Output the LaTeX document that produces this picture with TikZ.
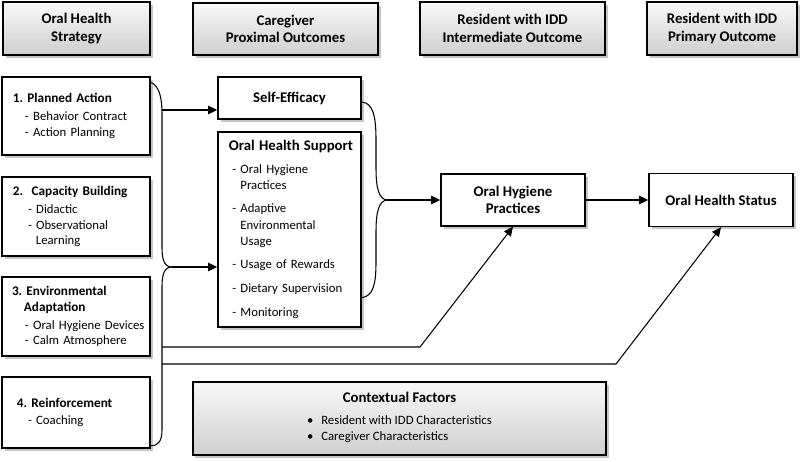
\documentclass[tikz,border=0pt]{standalone}
\usepackage{fontspec}
\setmainfont{Carlito}
\usepackage{tikz}
\usetikzlibrary{shadows}
\usetikzlibrary{arrows.meta}
\usetikzlibrary{calc}

\newcommand{\hdsz}{\fontsize{10.5}{12.6}\selectfont}
\newcommand{\txsz}{\fontsize{9.05}{10.8}\selectfont}
\frenchspacing

\begin{document}
\begin{tikzpicture}[x=0.025cm,y=-0.025cm,
  shade box/.style={rectangle,draw=black,line width=1pt,top color=gray!5,bottom color=gray!38,
    drop shadow={shadow xshift=1.8pt,shadow yshift=-1.8pt,fill=black!45}},
  header/.style={shade box,align=center,font=\hdsz\bfseries},
  plain box/.style={rectangle,draw=black,line width=1pt,fill=white,
    drop shadow={shadow xshift=1.8pt,shadow yshift=-1.8pt,fill=black!45}},
  strat/.style={plain box,inner xsep=0.075cm,text width=3.55cm,minimum width=3.7cm,align=left,font=\txsz},
  outcome/.style={plain box,align=center,font=\hdsz\bfseries},
  link/.style={line width=0.75pt},
  arr/.style={link,-{Triangle[length=6.5pt,width=6pt]}}]
\useasboundingbox (0,0) rectangle (800,461);

\node at (76.5,28.5) [header,minimum width=3.675cm,minimum height=1.325cm] (hstrat) {Oral Health\\Strategy};
\node at (285.5,29) [header,minimum width=4.625cm,minimum height=1.3cm] (hprox) {Caregiver\\Proximal Outcomes};
\node at (512.5,28.5) [header,minimum width=4.625cm,minimum height=1.325cm] (hinter) {Resident with IDD\\Intermediate Outcome};
\node at (722,28.5) [header,minimum width=3.75cm,minimum height=1.325cm] (hprim) {Resident with IDD\\Primary Outcome};

\node at (76,116) [strat,minimum height=1.95cm] (plan) {\hspace*{5.7pt}\textbf{\fontsize{9.4}{10.8}\selectfont 1. Planned Action}\\[2pt]
  \hspace*{14.2pt}- Behavior Contract\\\hspace*{14.2pt}- Action Planning};
\node at (76,216.5) [strat,minimum height=1.975cm] (capac) {\hspace*{5.7pt}\textbf{\fontsize{9.4}{10.8}\selectfont 2.\ \ Capacity Building}\\[2pt]
  \hspace*{16.4pt}- Didactic\\\hspace*{16.4pt}- Observational\\\hspace*{22pt}Learning};
\node at (76,316.5) [strat,minimum height=1.975cm] (envir) {\hspace*{5pt}\textbf{\fontsize{9.4}{10.8}\selectfont 3. Environmental}\\
  \hspace*{13.5pt}\textbf{\fontsize{9.4}{10.8}\selectfont Adaptation}\\[2pt]\hspace*{14.2pt}- Oral Hygiene Devices\\\hspace*{14.2pt}- Calm Atmosphere};
\node at (76,412.5) [strat,minimum height=1.775cm] (reinf) {\hspace*{8.5pt}\textbf{\fontsize{9.4}{10.8}\selectfont 4. Reinforcement}\\[1pt]
  \hspace*{16.4pt}- Coaching};

\node at (289.5,98) [outcome,minimum width=3.575cm,minimum height=1.05cm] (selfeff) {Self-Efficacy};
\node at (289.5,229.5) [plain box,minimum width=3.575cm,minimum height=4.875cm,inner xsep=0.2cm,
  text width=3.175cm,align=left,font=\fontsize{9.05}{11.4}\selectfont] (support)
  {\hspace*{\fill}{\hdsz\bfseries Oral Health Support}\hspace*{\fill}\\[4.5pt]
  \hspace*{4.5pt}- Oral Hygiene\\\hspace*{4.5pt}\phantom{- }Practices\\[5.5pt]
  \hspace*{4.5pt}- Adaptive\\\hspace*{4.5pt}\phantom{- }Environmental\\\hspace*{4.5pt}\phantom{- }Usage\\[5.5pt]
  \hspace*{4.5pt}- Usage of Rewards\\[5.5pt]
  \hspace*{4.5pt}- Dietary Supervision\\[5.5pt]
  \hspace*{4.5pt}- Monitoring};

\node at (513,200) [outcome,minimum width=3.6cm,minimum height=1.3cm] (hygiene) {Oral Hygiene\\Practices};
\node at (721,200) [outcome,minimum width=3.6cm,minimum height=1.325cm] (status) {Oral Health Status};

\node at (399.5,418.5) [shade box,minimum width=10.325cm,minimum height=1.825cm,align=center] (context)
  {{\hdsz\bfseries Contextual Factors}\\[7pt]
  {\txsz\begin{tabular}{@{}l@{}}\textbullet\hspace{5.5pt}Resident with IDD Characteristics\\[0.8pt]
  \textbullet\hspace{5.5pt}Caregiver Characteristics\end{tabular}}};

\coordinate (lcusp) at (172,267);
\coordinate (sefork) at (162,110);
\coordinate (fork1) at (162,347);
\coordinate (bend1) at (420,347);
\coordinate (fork2) at (162,364);
\coordinate (bend2) at (616,364);
\coordinate (rcusp) at (387,200);

\draw [link] ($(plan.north east)+(0,6)$) .. controls (159,86) and (162,96) .. (162,115) -- (162,248)
  .. controls (162,261) and (165,267) .. (lcusp);
\draw [link] (lcusp) .. controls (165,267) and (162,273) .. (162,286) -- (162,430)
  .. controls (162,441) and (158,446) .. ($(reinf.south east)+(0,-3)$);
\draw [arr] (sefork) -- (sefork -| selfeff.west);
\draw [arr] (lcusp) -- (lcusp -| support.west);
\draw [arr] (fork1) -- (bend1) -- (hygiene.south);
\draw [arr] (fork2) -- (bend2) -- (status.south);

\draw [link] ($(selfeff.east)+(0,4)$) .. controls (373,103) and (376,116) .. (376,140) -- (376,168)
  .. controls (376,189) and (379,199) .. (rcusp);
\draw [link] (rcusp) .. controls (379,201) and (376,211) .. (376,232) -- (376,262)
  .. controls (376,285) and (373,296) .. ($(support.south east)+(0,-30)$);
\draw [arr] (rcusp) -- (hygiene.west);
\draw [arr] (hygiene.east) -- (status.west);
\end{tikzpicture}
\end{document}
